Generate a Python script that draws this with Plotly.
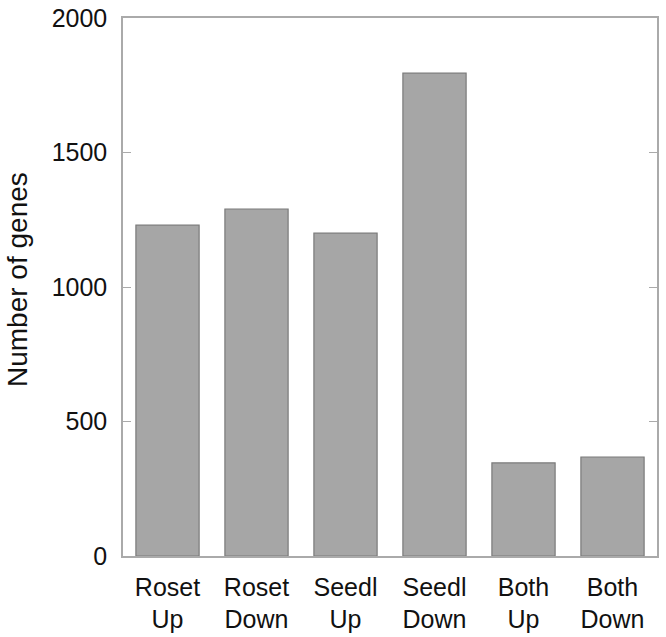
import plotly.graph_objects as go

categories = ["Roset<br>Up", "Roset<br>Down", "Seedl<br>Up", "Seedl<br>Down", "Both<br>Up", "Both<br>Down"]
values = [1230, 1290, 1200, 1795, 346, 368]
y_ticks = [0, 500, 1000, 1500, 2000]
y_title = "Number of genes"

fig = go.Figure(go.Bar(
    x=categories, y=values,
    marker=dict(color="#a6a6a6", line=dict(color="#7a7a7a", width=1.2)),
))

fig.update_layout(
    width=666, height=637,
    margin=dict(l=123, r=9, t=18, b=81),
    plot_bgcolor="white", paper_bgcolor="white",
    bargap=0.29,
    showlegend=False,
    font=dict(family="Liberation Sans, Arial, sans-serif", size=25, color="#111111"),
    annotations=[dict(
        text=y_title, textangle=-90, xref="paper", yref="paper",
        x=0, y=0.5, xanchor="center", yanchor="middle",
        xshift=-106, yshift=7, showarrow=False, font=dict(size=28),
    )],
)
fig.update_xaxes(
    showline=True, linecolor="#aaaaaa", linewidth=1.5, mirror=True,
    ticks="", showgrid=False, tickfont=dict(size=25), automargin=False,
    ticklabelstandoff=8,
)
fig.update_yaxes(
    range=[0, 2000], tickvals=y_ticks,
    showline=True, linecolor="#aaaaaa", linewidth=1.5, mirror="ticks",
    ticks="inside", ticklen=8, tickcolor="#aaaaaa",
    showgrid=False, zeroline=False,
    ticklabelstandoff=9,
    tickfont=dict(size=25), automargin=False,
)

fig.write_html("out.html", config={"displayModeBar": False},
               post_script="document.body.style.margin='0';")
